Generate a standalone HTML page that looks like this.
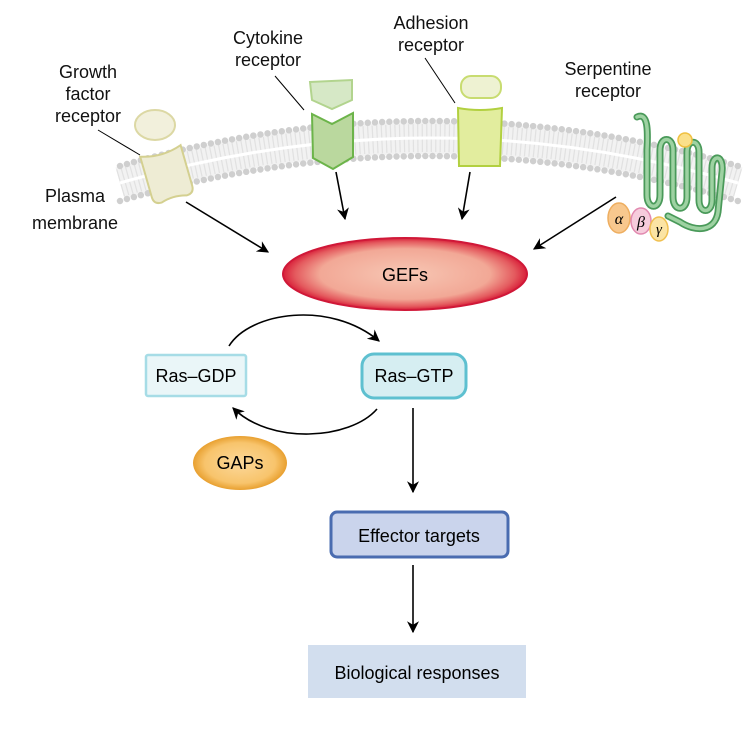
<!DOCTYPE html>
<html><head><style>
body{margin:0;background:#fff;}
svg{display:block;font-family:"Liberation Sans",Arial,sans-serif;}
</style></head><body>
<svg width="744" height="729" viewBox="0 0 744 729" xmlns="http://www.w3.org/2000/svg">
<defs>
<radialGradient id="gef" cx="50%" cy="50%" r="50%">
<stop offset="0" stop-color="#f7c7b4"/><stop offset="0.7" stop-color="#f2a896"/><stop offset="0.9" stop-color="#e45a5e"/><stop offset="1" stop-color="#d8203a"/></radialGradient>
<radialGradient id="gap" cx="50%" cy="50%" r="50%">
<stop offset="0" stop-color="#fbd89a"/><stop offset="0.75" stop-color="#f8c46c"/><stop offset="1" stop-color="#e8a030"/></radialGradient>
<marker id="ah" viewBox="0 0 10 10" refX="9" refY="5" markerWidth="12" markerHeight="12" orient="auto" markerUnits="userSpaceOnUse"><path d="M0,0 L10,5 L0,10 L3,5 z" fill="#000"/></marker>
</defs>

<!-- membrane -->
<path d="M120,183 Q430,93 738,183" fill="none" stroke="#f2f2f2" stroke-width="32"/>
<path d="M120,183 Q430,93 738,183" fill="none" stroke="#dcdcdc" stroke-width="28" stroke-dasharray="1.2 3.3" opacity="0.8"/>
<path d="M120,183 Q430,93 738,183" fill="none" stroke="#fff" stroke-width="3"/>
<path d="M120,166 Q430,76 738,166" fill="none" stroke="#cfcfcf" stroke-width="6.5" stroke-linecap="round" stroke-dasharray="0 7.2"/>
<path d="M120,201 Q430,111 738,201" fill="none" stroke="#cfcfcf" stroke-width="6.5" stroke-linecap="round" stroke-dasharray="0 7.2"/>

<!-- growth factor receptor -->
<ellipse cx="155" cy="125" rx="20" ry="15" fill="#f2f0dc" stroke="#dcd8a4" stroke-width="2"/>
<g transform="rotate(-16 167 174)">
<path d="M146,150 Q167,157 188,150 L188,192 Q188,200 180,200 Q167,196 154,200 Q146,200 146,192 Z" fill="#eeecd4" stroke="#d4d090" stroke-width="2"/>
</g>
<!-- cytokine receptor -->
<path d="M310,82 L352,80 L352,100 L332,109 L312,100 Z" fill="#d6e8c6" stroke="#b2d48e" stroke-width="2"/>
<path d="M312,114 L332,124 L353,113 L353,157 L333,169 L313,158 Z" fill="#bad89e" stroke="#6cb44a" stroke-width="2"/>
<!-- adhesion receptor -->
<rect x="461" y="76" width="40" height="22" rx="10" fill="#eef2d2" stroke="#c8dc70" stroke-width="2"/>
<path d="M458,108 Q480,112 502,108 L500,166 L459,166 Z" fill="#e2ed9e" stroke="#b2d040" stroke-width="2"/>
<!-- serpentine -->
<g fill="none" stroke-linecap="round" stroke-linejoin="round">
<path id="sp" d="M637,117 C648,112 648,130 647,150 L647,195 C647,210 660,210 660,195 L660,150 C660,136 673,136 673,150 L673,197 C673,212 687,212 687,197 L687,152 C687,139 699,139 699,152 L699,200 C699,214 712,214 712,200 L712,168 C712,154 724,154 722,172 L718,212 C715,232 695,232 680,222 L668,216" stroke="#4a9a5a" stroke-width="7"/>
<path d="M637,117 C648,112 648,130 647,150 L647,195 C647,210 660,210 660,195 L660,150 C660,136 673,136 673,150 L673,197 C673,212 687,212 687,197 L687,152 C687,139 699,139 699,152 L699,200 C699,214 712,214 712,200 L712,168 C712,154 724,154 722,172 L718,212 C715,232 695,232 680,222 L668,216" stroke="#9ed2a2" stroke-width="3.5"/>
</g>
<circle cx="685" cy="140" r="7" fill="#fbe08a" stroke="#f0c040" stroke-width="1.5"/>
<ellipse cx="619" cy="218" rx="11" ry="15" fill="#f8c88e" stroke="#eeae60" stroke-width="1.5"/>
<text x="619" y="224" font-size="16" font-style="italic" font-family="Liberation Serif,serif" text-anchor="middle">α</text>
<ellipse cx="641" cy="221" rx="10" ry="13" fill="#f6ccdc" stroke="#e28ab0" stroke-width="1.5"/>
<text x="641" y="227" font-size="16" font-style="italic" font-family="Liberation Serif,serif" text-anchor="middle">β</text>
<ellipse cx="659" cy="229" rx="9" ry="12" fill="#fbe4a4" stroke="#f0c050" stroke-width="1.5"/>
<text x="659" y="234" font-size="15" font-style="italic" font-family="Liberation Serif,serif" text-anchor="middle">γ</text>

<!-- labels -->
<g font-size="18" fill="#111" text-anchor="middle">
<text x="88" y="78">Growth</text><text x="88" y="100">factor</text><text x="88" y="122">receptor</text>
<text x="268" y="44">Cytokine</text><text x="268" y="66">receptor</text>
<text x="431" y="29">Adhesion</text><text x="431" y="51">receptor</text>
<text x="608" y="75">Serpentine</text><text x="608" y="97">receptor</text>
<text x="75" y="202">Plasma</text><text x="75" y="229">membrane</text>
</g>
<g stroke="#000" stroke-width="1">
<line x1="98" y1="130" x2="140" y2="155"/>
<line x1="275" y1="76" x2="304" y2="110"/>
<line x1="425" y1="58" x2="455" y2="103"/>
</g>

<!-- arrows -->
<g stroke="#000" stroke-width="1.6" fill="none" marker-end="url(#ah)">
<line x1="186" y1="202" x2="268" y2="252"/>
<line x1="336" y1="172" x2="345" y2="219"/>
<line x1="470" y1="172" x2="462" y2="219"/>
<line x1="616" y1="197" x2="534" y2="249"/>
<path d="M229,346 C250,312 330,300 379,341"/>
<path d="M377,409 C350,440 270,445 233,408"/>
<line x1="413" y1="408" x2="413" y2="492"/>
<line x1="413" y1="565" x2="413" y2="632"/>
</g>

<!-- GEFs -->
<ellipse cx="405" cy="274" rx="122" ry="36" fill="url(#gef)" stroke="#d01838" stroke-width="2"/>
<text x="405" y="281" font-size="18" text-anchor="middle">GEFs</text>

<!-- Ras -->
<rect x="146" y="355" width="100" height="41" rx="2" fill="#eaf6f8" stroke="#a6dce6" stroke-width="2.5"/>
<text x="196" y="382" font-size="18" text-anchor="middle">Ras–GDP</text>
<rect x="362" y="354" width="104" height="44" rx="12" fill="#d6eef2" stroke="#5ec0d0" stroke-width="3"/>
<text x="414" y="382" font-size="18" text-anchor="middle">Ras–GTP</text>

<ellipse cx="240" cy="463" rx="47" ry="27" fill="url(#gap)"/>
<text x="240" y="469" font-size="18" text-anchor="middle">GAPs</text>

<rect x="331" y="512" width="177" height="45" rx="6" fill="#cad4ec" stroke="#4a6cb0" stroke-width="3"/>
<text x="419" y="542" font-size="18" text-anchor="middle">Effector targets</text>

<rect x="308" y="645" width="218" height="53" fill="#d2deee"/>
<text x="417" y="679" font-size="18" text-anchor="middle">Biological responses</text>
</svg>
</body></html>
